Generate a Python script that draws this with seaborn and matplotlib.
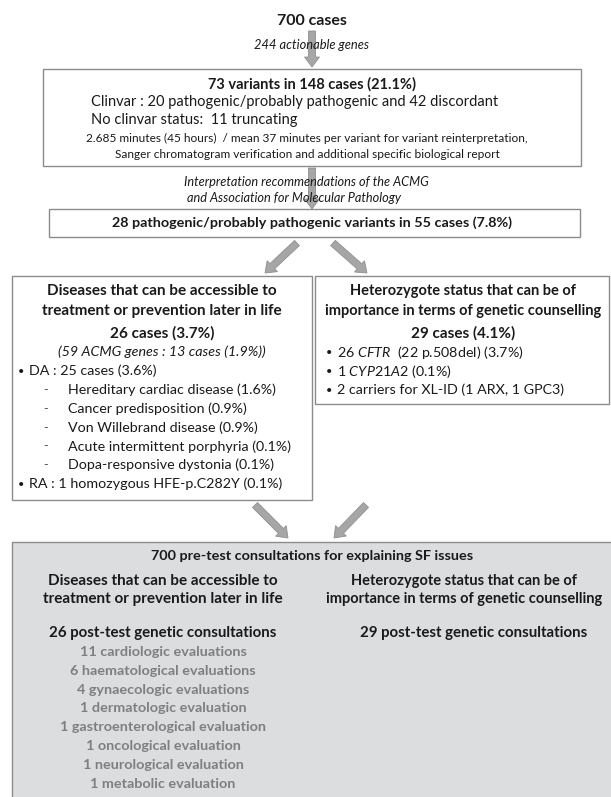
import seaborn as sns
import matplotlib.pyplot as plt
from matplotlib.patches import Rectangle, FancyArrow

sns.set_theme(style='white')
plt.rcParams['font.family'] = ['Lato', 'DejaVu Sans']
plt.rcParams['mathtext.fontset'] = 'custom'
plt.rcParams['mathtext.rm'] = 'Lato'
plt.rcParams['mathtext.it'] = 'Lato:italic'

# texts of the flowchart
top_title = '700 cases'
genes_label = '244 actionable genes'
box1_title = '73 variants in 148 cases (21.1%)'
box1_lines = ['Clinvar : 20 pathogenic/probably pathogenic and 42 discordant',
              'No clinvar status:  11 truncating']
box1_notes = ['2.685 minutes (45 hours)  / mean 37 minutes per variant for variant reinterpretation,',
              'Sanger chromatogram verification and additional specific biological report']
acmg_label = ['Interpretation recommendations of the ACMG',
              ' and Association for Molecular Pathology']
box2_title = '28 pathogenic/probably pathogenic variants in 55 cases (7.8%)'
left_head = ['Diseases that can be accessible to', 'treatment or prevention later in life']
left_count = '26 cases (3.7%)'
left_acmg = '(59 ACMG genes : 13 cases (1.9%))'
left_da = 'DA : 25 cases (3.6%)'
da_items = ['Hereditary cardiac disease (1.6%)', 'Cancer predisposition (0.9%)',
            'Von Willebrand disease (0.9%)', 'Acute intermittent porphyria (0.1%)',
            'Dopa-responsive dystonia (0.1%)']
left_ra = 'RA : 1 homozygous HFE-p.C282Y (0.1%)'
right_head = ['Heterozygote status that can be of', 'importance in terms of genetic counselling']
right_count = '29 cases (4.1%)'
right_items = [r'26 $\mathit{CFTR}$  (22 p.508del) (3.7%)', r'1 $\mathit{CYP21A2}$ (0.1%)',
               '2 carriers for XL-ID (1 ARX, 1 GPC3)']
consult_title = '700 pre-test consultations for explaining SF issues'
left_post = '26 post-test genetic consultations'
evaluations = ['11 cardiologic evaluations', '6 haematological evaluations',
               '4 gynaecologic evaluations', '1 dermatologic evaluation',
               '1 gastroenterological evaluation', '1 oncological evaluation',
               '1 neurological evaluation', '1 metabolic evaluation']
right_post = '29 post-test genetic consultations'

edge = '#8c8c8c'
arrow_fc = '#a6a6a6'
fill = '#dcdddf'

fig = plt.figure(figsize=(6.11, 7.97), dpi=100)
ax = fig.add_axes([0, 0, 1, 1])
ax.set_xlim(0, 611)
ax.set_ylim(797, 0)
ax.axis('off')


def box(x0, y0, x1, y1, fc='white'):
    ax.add_patch(Rectangle((x0, y0), x1 - x0, y1 - y0, fc=fc, ec=edge, lw=1.0, zorder=1))


def arrow(x0, y0, x1, y1, hl=10):
    ax.add_patch(FancyArrow(x0, y0, x1 - x0, y1 - y0, width=7, head_width=15, head_length=hl,
                            length_includes_head=True, fc=arrow_fc, ec='#909090', lw=0.6, zorder=2))


def txt(x, y, s, size=10.4, weight='normal', style='normal', ha='center', color='#1a1a1a'):
    ax.text(x, y, s, fontsize=size, fontweight=weight, fontstyle=style, ha=ha, va='center',
            color=color, zorder=3)


# top
txt(312, 21, top_title, size=11.5, weight='bold')
arrow(312, 31, 312, 67)
txt(312, 45, genes_label, size=9.3, style='italic')

# box 1
box(43, 69, 581, 166)
txt(312, 84, box1_title, size=10.5, weight='bold')
for i, s in enumerate(box1_lines):
    txt(91, 102 + i * 18, s, size=10.5, ha='left')
for i, s in enumerate(box1_notes):
    txt(307, 138 + i * 16.5, s, size=8.6)

# acmg arrow
arrow(312, 168, 312, 209)
for i, s in enumerate(acmg_label):
    txt(184, 182 + i * 15.5, s, size=9.2, style='italic', ha='left')

# box 2
box(49, 209, 580, 237)
txt(312, 223, box2_title, size=10.4, weight='bold')

arrow(297, 243, 265, 273)
arrow(333, 243, 367, 273)

# left box
box(12, 276, 312, 500)
for i, s in enumerate(left_head):
    txt(162, 291 + i * 20, s, size=11, weight='bold')
txt(162, 333, left_count, size=11, weight='bold')
txt(162, 352, left_acmg, size=10.3, style='italic')
txt(18, 371, '\u2022', size=8, ha='left')
txt(29, 371, left_da, size=10.3, ha='left')
for i, s in enumerate(da_items):
    txt(43, 390 + i * 18.8, '-', size=9, ha='left', color='#555555')
    txt(68, 390 + i * 18.8, s, size=10.3, ha='left')
txt(18, 484, '\u2022', size=8, ha='left')
txt(29, 484, left_ra, size=10.3, ha='left')

# right box
box(315, 276, 609, 404)
for i, s in enumerate(right_head):
    txt(463, 291 + i * 20, s, size=10.5, weight='bold')
txt(463, 333, right_count, size=11, weight='bold')
for i, s in enumerate(right_items):
    txt(326, 352 + i * 19, '\u2022', size=8, ha='left')
    txt(337, 352 + i * 19, s, size=10.3, ha='left')

# lower arrows
arrow(255, 505, 288, 538)
arrow(366, 505, 334, 538)

# consultation box
box(12, 542, 614, 800, fc=fill)
txt(312, 556, consult_title, size=10.4, weight='bold')
for i, s in enumerate(left_head):
    txt(163, 581 + i * 18.5, s, size=11, weight='bold')
for i, s in enumerate(right_head):
    txt(464, 581 + i * 18.5, s, size=10.5, weight='bold')
txt(163, 633, left_post, size=10.8, weight='bold')
txt(474, 633, right_post, size=10.8, weight='bold')
for i, s in enumerate(evaluations):
    txt(163, 652 + i * 18.8, s, size=10.4, weight='bold', color='#7f7f7f')

fig.savefig('out.png', dpi=100, facecolor='white')
